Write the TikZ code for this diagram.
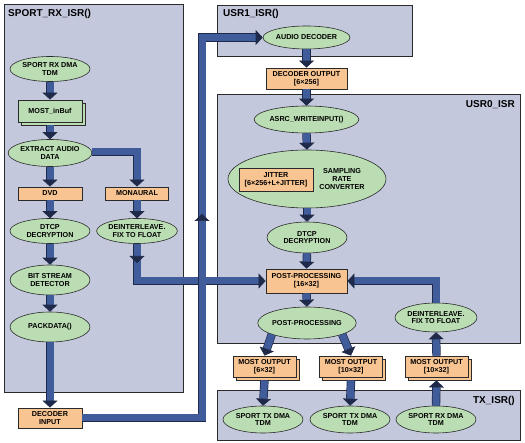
\documentclass[tikz,border=0pt]{standalone}
\usepackage{fontspec}
\setmainfont{Liberation Sans}
\usetikzlibrary{shapes.geometric,arrows.meta,shadows,calc}
\definecolor{panelc}{HTML}{C4C8DD}
\definecolor{ellc}{HTML}{BBDDB3}
\definecolor{boxc}{HTML}{F8C491}
\definecolor{flowblue}{HTML}{415C9B}
\definecolor{flowdark}{HTML}{1F2A4A}
\definecolor{linec}{HTML}{2A2A2A}
\newcommand{\nodefnt}{\bfseries\fontsize{7.2}{7.6}\selectfont}
\newcommand{\titlefnt}{\bfseries\fontsize{10}{12}\selectfont}
\begin{document}
\begin{tikzpicture}[x=1pt,y=-1pt,
  panel/.style={draw=linec, fill=panelc, line width=0.8pt},
  ell/.style={ellipse, draw=linec, fill=ellc, line width=0.6pt, inner sep=0pt, align=center, font=\nodefnt},
  box/.style={rectangle, draw=linec, fill=boxc, line width=0.8pt, inner sep=0pt, align=center, font=\nodefnt},
  stack/.style={box, copy shadow={shadow xshift=3pt, shadow yshift=-3pt}},
  flow/.style={draw=flowdark, line width=0.7pt, double=flowblue, double distance=7pt, -{Triangle[width=15pt,length=7pt]}},
  ptitle/.style={font=\titlefnt, inner sep=0pt}]
\useasboundingbox (0,0) rectangle (525,443);
% panels
\draw[panel] (4,4) rectangle (183,392);
\draw[panel] (217,5) rectangle (412,56);
\draw[panel] (217,94) rectangle (520,343);
\draw[panel] (217,390) rectangle (520,440);
\node[ptitle, anchor=base west] (t1) at (8,17) {SPORT\_RX\_ISR()};
\node[ptitle, anchor=base west] (t2) at (223,17) {USR1\_ISR()};
\node[ptitle, anchor=base east] (t3) at (515,108) {USR0\_ISR};
\node[ptitle, anchor=base east] (t4) at (515,404) {TX\_ISR()};
% left column
\node[ell, minimum width=80pt, minimum height=25pt] (srx) at (50,69) {SPORT RX DMA\\TDM};
\node[stack, fill=ellc, minimum width=64pt, minimum height=22pt] (inbuf) at (50,111) {MOST\_inBuf};
\node[ell, minimum width=80pt, minimum height=27pt] (extract) at (50,153) {EXTRACT AUDIO\\DATA};
\node[box, minimum width=64pt, minimum height=13pt] (dvd) at (50,193.5) {DVD};
\node[box, minimum width=63pt, minimum height=13pt] (mono) at (137,193.5) {MONAURAL};
\node[ell, minimum width=80pt, minimum height=25pt] (dtcpL) at (50,231) {DTCP\\DECRYPTION};
\node[ell, minimum width=80pt, minimum height=25pt] (deintL) at (137,231) {DEINTERLEAVE.\\FIX TO FLOAT};
\node[ell, minimum width=80pt, minimum height=30pt] (bit) at (50,280) {BIT STREAM\\DETECTOR};
\node[ell, minimum width=80pt, minimum height=30pt] (pack) at (50,327) {PACKDATA()};
\node[box, minimum width=64pt, minimum height=20pt] (decin) at (50,418) {DECODER\\INPUT};
% right column
\node[ell, minimum width=87pt, minimum height=23pt] (audio) at (306.5,37.5) {AUDIO DECODER};
\node[box, minimum width=81pt, minimum height=21pt] (decout) at (306.5,78.5) {DECODER OUTPUT\\{}[6×256]};
\node[ell, minimum width=88pt, minimum height=27pt] (asrc) at (306.5,119.5) {ASRC\_WRITEINPUT()};
\node[ell, minimum width=158pt, minimum height=58pt] (src) at (307,179) {};
\node[box, minimum width=74pt, minimum height=23pt] (jit) at (276,179.5) {JITTER\\{}[6×256+L+JITTER]};
\node[inner sep=0pt, align=center, font=\nodefnt] (srct) at (342,179) {SAMPLING\\RATE\\CONVERTER};
\node[ell, minimum width=80pt, minimum height=31pt] (dtcpR) at (307,237.5) {DTCP\\DECRYPTION};
\node[box, minimum width=81pt, minimum height=24pt] (postR) at (306.5,281) {POST-PROCESSING\\{}[16×32]};
\node[ell, minimum width=88pt, minimum height=32pt] (postE) at (307,323) {POST-PROCESSING};
\node[ell, minimum width=82pt, minimum height=29pt] (deintR) at (436,317.5) {DEINTERLEAVE.\\FIX TO FLOAT};
\node[stack, minimum width=63pt, minimum height=21pt] (mo1) at (264.5,366.5) {MOST OUTPUT\\{}[6×32]};
\node[stack, minimum width=63pt, minimum height=21pt] (mo2) at (351,366.5) {MOST OUTPUT\\{}[10×32]};
\node[stack, minimum width=63pt, minimum height=21pt] (mo3) at (436.5,366.5) {MOST OUTPUT\\{}[10×32]};
\node[ell, minimum width=80pt, minimum height=27pt] (stx1) at (263,419.5) {SPORT TX DMA\\TDM};
\node[ell, minimum width=80pt, minimum height=27pt] (stx2) at (350,419.5) {SPORT TX DMA\\TDM};
\node[ell, minimum width=80pt, minimum height=27pt] (srx2) at (436,419.5) {SPORT RX DMA\\TDM};
% connectors (left)
\draw[flow] (srx.south) -- (inbuf.north);
\draw[flow] ([yshift=-3pt]inbuf.south) -- (extract.north);
\draw[flow] (extract.south) -- (dvd.north);
\draw[flow] ([yshift=1pt]extract.east) -| (mono.north);
\draw[flow] (dvd.south) -- (dtcpL.north);
\draw[flow] (mono.south) -- (deintL.north);
\draw[flow] (dtcpL.south) -- (bit.north);
\draw[flow] (bit.south) -- (pack.north);
\draw[flow] (deintL.south) |- (postR.west);
\coordinate (m1a) at (137,250);
\coordinate (m1b) at (137,263);
\draw[flow] (m1a) -- (m1b);
\draw[flow] (pack.south) -- (decin.north);
\coordinate (lc) at (202,37.5);
\draw[flow] (decin.east) -| (lc) -- (audio.west);
\coordinate (m2a) at (202,228);
\coordinate (m2b) at (202,214);
\draw[flow] (m2a) -- (m2b);
% connectors (right)
\draw[flow] (audio.south) -- (decout.north);
\draw[flow] (decout.south) -- (asrc.north);
\draw[flow] (asrc.south) -- (src.north);
\draw[flow] (src.south) -- (dtcpR.north);
\draw[flow] (dtcpR.south) -- (postR.north);
\draw[flow] (postR.south) -- (postE.north);
\draw[flow] (deintR.north) |- (postR.east);
\draw[flow] (postE.198) -- (mo1.north);
\draw[flow] (postE.342) -- (mo2.north);
\draw[flow] ([yshift=-3pt]mo1.south) -- (stx1.north);
\draw[flow] ([yshift=-3pt]mo2.south) -- (stx2.north);
\draw[flow] (srx2.north) -- ([yshift=-3pt]mo3.south);
\draw[flow] (mo3.north) -- (deintR.south);
\end{tikzpicture}
\end{document}
